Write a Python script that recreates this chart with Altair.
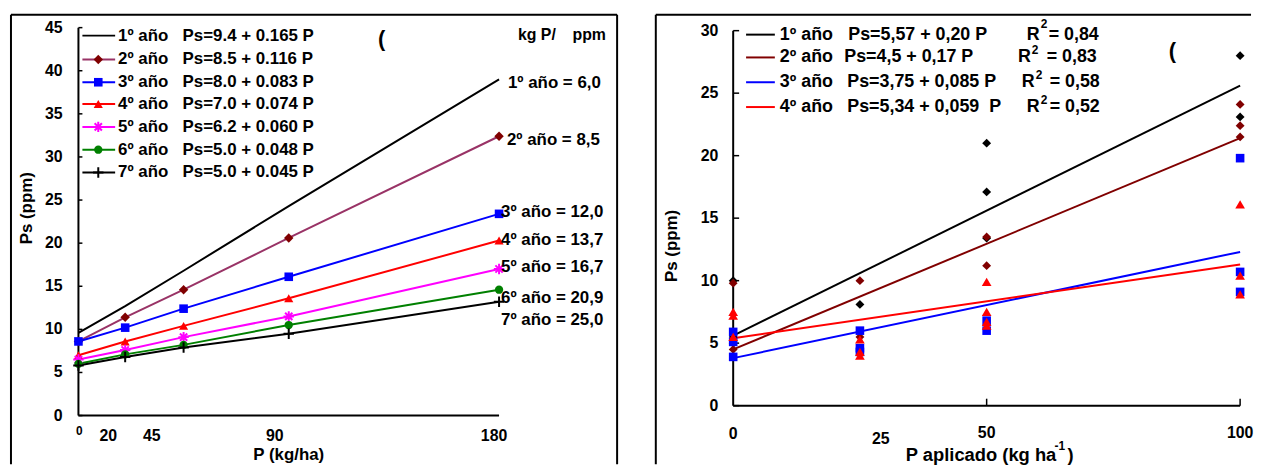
import altair as alt
import pandas as pd

# ---------------- Left panel: Ps vs P applied, by year ----------------
P_DOSES = [0, 20, 45, 90, 180]
YEARS_L = ["1º año", "2º año", "3º año", "4º año", "5º año", "6º año", "7º año"]
PS_YEAR1 = [9.6, 12.7, 16.8, 24.3, 39.0]
PS_YEAR2 = [8.6, 11.4, 14.6, 20.6, 32.4]
PS_YEAR3 = [8.6, 10.2, 12.4, 16.1, 23.4]
PS_YEAR4 = [7.0, 8.6, 10.4, 13.6, 20.3]
PS_YEAR5 = [6.5, 7.6, 9.1, 11.5, 17.0]
PS_YEAR6 = [6.0, 7.1, 8.2, 10.5, 14.6]
PS_YEAR7 = [5.8, 6.8, 7.9, 9.5, 13.2]
EQ_L = ["Ps=9.4 + 0.165 P", "Ps=8.5 + 0.116 P", "Ps=8.0 + 0.083 P", "Ps=7.0 + 0.074 P",
        "Ps=6.2 + 0.060 P", "Ps=5.0 + 0.048 P", "Ps=5.0 + 0.045 P"]
KGP_PPM = ["1º año = 6,0", "2º año = 8,5", "3º año = 12,0", "4º año = 13,7",
           "5º año = 16,7", "6º año = 20,9", "7º año = 25,0"]
Y_TICKS_L = [0, 5, 10, 15, 20, 25, 30, 35, 40, 45]
X_TICKS_L = [0, 20, 45, 90, 180]
X_TICK_LABELS_L = ["0", "20", "45", "90", "180"]

# ---------------- Right panel: observations + fitted lines ----------------
YEARS_R = ["1º año", "2º año", "3º año", "4º año"]
EQ_R = ["Ps=5,57 + 0,20 P", "Ps=4,5 + 0,17 P", "Ps=3,75 + 0,085 P", "Ps=5,34 + 0,059\u00a0 P"]
R2_R = ["= 0,84", "= 0,83", "= 0,58", "= 0,52"]
OBS1_P = [0, 0, 25, 50, 50, 50, 100, 100]
OBS1_PS = [10.0, 5.5, 8.1, 21.0, 17.1, 13.4, 28.0, 23.1]
OBS2_P = [0, 0, 0, 25, 25, 50, 50, 100, 100, 100]
OBS2_PS = [9.8, 5.0, 4.5, 10.0, 5.5, 13.5, 11.2, 24.1, 22.4, 21.5]
OBS3_P = [0, 0, 0, 25, 25, 25, 50, 50, 100, 100, 100]
OBS3_PS = [5.9, 5.1, 3.9, 6.0, 4.6, 4.3, 6.8, 6.0, 19.8, 10.7, 9.1]
OBS4_P = [0, 0, 0, 25, 25, 25, 50, 50, 50, 50, 100, 100, 100]
OBS4_PS = [7.5, 7.2, 5.5, 5.3, 4.3, 4.0, 9.9, 7.5, 6.7, 6.4, 16.1, 10.4, 8.9]
FIT_P = [0, 100]
FIT1 = [5.6, 25.6]
FIT2 = [4.5, 21.4]
FIT3 = [3.8, 12.3]
FIT4 = [5.4, 11.3]
Y_TICKS_R = [0, 5, 10, 15, 20, 25, 30]
X_TICKS_R = [50, 100]
X_LABELS_R = [0, 25, 50, 100]

# ---------------- styles ----------------
FONT = "Liberation Sans"
ASTERISK = "M-1,0L1,0M0,-1L0,1M-0.7,-0.7L0.7,0.7M-0.7,0.7L0.7,-0.7"
PLUS = "M-1,0L1,0M0,-1L0,1"
LINE_COL_L = ["#000000", "#993366", "#0000FF", "#FF0000", "#FF00FF", "#008000", "#000000"]
MARK_COL_L = ["#000000", "#800000", "#0000FF", "#FF0000", "#FF00FF", "#008000", "#000000"]
SHAPE_L = [None, "diamond", "square", "triangle-up", ASTERISK, "circle", PLUS]
FILLED_L = [True, True, True, True, False, True, False]
SIZE_L = [0, 90, 75, 85, 110, 70, 110]
COL_R = ["#000000", "#800000", "#0000FF", "#FF0000"]
SHAPE_R = ["diamond", "diamond", "square", "triangle-up"]
SIZE_R = [80, 80, 75, 95]


class Panel:
    def __init__(self, w, h, x0px, xpu, y0px, ypu):
        self.w, self.h, self.xpu, self.ypu = w, h, xpu, ypu
        self.xd = [-x0px / xpu, (w - x0px) / xpu]
        self.yd = [-(h - y0px) / ypu, y0px / ypu]

    def x(self, px):
        return self.xd[0] + px / self.w * (self.xd[1] - self.xd[0])

    def y(self, py):
        return self.yd[1] - py / self.h * (self.yd[1] - self.yd[0])

    def X(self, f="x"):
        return alt.X(f"{f}:Q", scale=alt.Scale(domain=self.xd, nice=False, zero=False), axis=None)

    def Y(self, f="y"):
        return alt.Y(f"{f}:Q", scale=alt.Scale(domain=self.yd, nice=False, zero=False), axis=None)


def text_layer(pn, xs, ys, labels, size=17, align="left", px=True, **kw):
    if px:
        xs = [pn.x(v) for v in xs]
        ys = [pn.y(v) for v in ys]
    df = pd.DataFrame({"x": xs, "y": ys, "t": labels})
    return alt.Chart(df).mark_text(font=FONT, fontWeight="bold", fontSize=size, align=align,
                                   baseline="middle", color="black", **kw).encode(
        x=pn.X(), y=pn.Y(), text="t:N")


ONE = pd.DataFrame({"k": [0]})


def frame_rules(sides, w, h):
    out = []
    for s in sides:
        if s == "left":
            enc = dict(x=alt.value(0), y=alt.value(0), y2=alt.value(h))
        elif s == "right":
            enc = dict(x=alt.value(w), y=alt.value(0), y2=alt.value(h))
        else:
            enc = dict(x=alt.value(0), x2=alt.value(w), y=alt.value(0))
        out.append(alt.Chart(ONE).mark_rule(color="black", strokeWidth=2).encode(**enc))
    return out


def axis_rules(pn, xmax, ymax, ytick_vals, ytick_px, xtick_vals=(), xtick_px=0):
    layers = []
    yax = pd.DataFrame({"x": [0], "y": [0], "y2": [ymax]})
    xax = pd.DataFrame({"x": [0], "x2": [xmax], "y": [0]})
    layers.append(alt.Chart(yax).mark_rule(color="black", strokeWidth=2).encode(
        x=pn.X(), y=pn.Y(), y2="y2:Q"))
    layers.append(alt.Chart(xax).mark_rule(color="black", strokeWidth=2).encode(
        x=pn.X(), x2="x2:Q", y=pn.Y()))
    yt = pd.DataFrame({"x": [0] * len(ytick_vals), "x2": [ytick_px / pn.xpu] * len(ytick_vals),
                       "y": ytick_vals})
    layers.append(alt.Chart(yt).mark_rule(color="black", strokeWidth=1.5).encode(
        x=pn.X(), x2="x2:Q", y=pn.Y()))
    if len(xtick_vals):
        xt = pd.DataFrame({"x": list(xtick_vals), "y": [0] * len(xtick_vals),
                           "y2": [xtick_px / pn.ypu] * len(xtick_vals)})
        layers.append(alt.Chart(xt).mark_rule(color="black", strokeWidth=1.5).encode(
            x=pn.X(), y=pn.Y(), y2="y2:Q"))
    return layers


def point_layer(pn, xs, ys, shape, color, filled, size):
    df = pd.DataFrame({"x": xs, "y": ys})
    if filled:
        m = alt.Chart(df).mark_point(shape=shape, filled=True, color=color, size=size, opacity=1)
    else:
        m = alt.Chart(df).mark_point(shape=shape, filled=False, color=color, size=size,
                                     strokeWidth=2, opacity=1)
    return m.encode(x=pn.X(), y=pn.Y())


def line_layer(pn, xs, ys, color, width=2):
    df = pd.DataFrame({"x": xs, "y": ys})
    return alt.Chart(df).mark_line(color=color, strokeWidth=width).encode(x=pn.X(), y=pn.Y())


# ======================= LEFT PANEL =======================
LW, LH = 611, 453
L = Panel(LW, LH, x0px=68, xpu=424 / 180, y0px=404, ypu=8.69)
left = []
left += frame_rules(["left", "top", "right"], LW, LH)
left += axis_rules(L, 180, 45, Y_TICKS_L, 4)
# y tick labels
left.append(text_layer(L, [0] * len(Y_TICKS_L), Y_TICKS_L, [str(v) for v in Y_TICKS_L],
                       size=16, align="right", px=False, dx=-16))
# x tick labels (placed as in the original figure)
xl_dx = [1, -17, -32, -14, -5]
xl_x = [v + d / L.xpu for v, d in zip(X_TICKS_L, xl_dx)]
xl_y = [L.y(420)] + [L.y(425)] * 4
for i, lab in enumerate(X_TICK_LABELS_L):
    left.append(text_layer(L, [xl_x[i]], [xl_y[i]], [lab], size=12 if i == 0 else 16,
                           align="center", px=False))
# series
series_L = [PS_YEAR1, PS_YEAR2, PS_YEAR3, PS_YEAR4, PS_YEAR5, PS_YEAR6, PS_YEAR7]
for i, s in enumerate(series_L):
    left.append(line_layer(L, P_DOSES, s, LINE_COL_L[i]))
for i, s in enumerate(series_L):
    if SHAPE_L[i]:
        left.append(point_layer(L, P_DOSES, s, SHAPE_L[i], MARK_COL_L[i], FILLED_L[i], SIZE_L[i]))
# legend
leg_y = [21, 45, 68, 90, 113, 136, 159]
for i in range(7):
    left.append(line_layer(L, [L.x(72), L.x(105)], [L.y(leg_y[i])] * 2, LINE_COL_L[i]))
    if SHAPE_L[i]:
        left.append(point_layer(L, [L.x(88)], [L.y(leg_y[i])], SHAPE_L[i], MARK_COL_L[i],
                                FILLED_L[i], SIZE_L[i]))
left.append(text_layer(L, [108] * 7, leg_y, YEARS_L))
left.append(text_layer(L, [173] * 7, leg_y, EQ_L))
# right-hand annotations
left.append(text_layer(L, [511, 566], [20, 20], ["kg P/", "ppm"], size=16))
ann_x = [501, 500, 494, 494, 494, 494, 494]
ann_y = [69, 126, 199, 227, 254, 286, 308]
left.append(text_layer(L, ann_x, ann_y, KGP_PPM))
left.append(text_layer(L, [370], [24], ["("], size=22))
# axis titles
left.append(text_layer(L, [16], [195], ["Ps (ppm)"], size=17, align="center", angle=270))
left.append(text_layer(L, [280], [444], ["P (kg/ha)"], size=17, align="center"))

left_chart = alt.layer(*left).properties(width=LW, height=LH)

# ======================= RIGHT PANEL =======================
RW, RH = 590, 453
R = Panel(RW, RH, x0px=78, xpu=5.11, y0px=394, ypu=12.6)
right = []
right += frame_rules(["left"], RW, RH)
right.append(alt.Chart(ONE).mark_rule(color="black", strokeWidth=2).encode(
    x=alt.value(0), x2=alt.value(600), y=alt.value(0)))
right += axis_rules(R, 100, 30, Y_TICKS_R, 6, X_TICKS_R, 7)
right.append(text_layer(R, [0] * len(Y_TICKS_R), Y_TICKS_R, [str(v) for v in Y_TICKS_R],
                        size=16, align="right", px=False, dx=-15))
xr_dx = [0, 21, 0, 0]
xr_y = [R.y(423), R.y(428), R.y(422), R.y(422)]
xr_x = [v + d / R.xpu for v, d in zip(X_LABELS_R, xr_dx)]
right.append(text_layer(R, xr_x, xr_y, [str(v) for v in X_LABELS_R], size=16,
                        align="center", px=False))
fits = [FIT1, FIT2, FIT3, FIT4]
for i, f in enumerate(fits):
    right.append(line_layer(R, FIT_P, f, COL_R[i]))
obs = [(OBS1_P, OBS1_PS), (OBS2_P, OBS2_PS), (OBS3_P, OBS3_PS), (OBS4_P, OBS4_PS)]
for i, (xs, ys) in enumerate(obs):
    right.append(point_layer(R, xs, ys, SHAPE_R[i], COL_R[i], True, SIZE_R[i]))
# legend
rleg_y = [20, 43, 68, 93]
for i in range(4):
    right.append(line_layer(R, [R.x(91), R.x(120)], [R.y(rleg_y[i])] * 2, COL_R[i]))
right.append(text_layer(R, [125] * 4, rleg_y, YEARS_R, size=18))
right.append(text_layer(R, [194, 190, 193, 193], rleg_y, EQ_R, size=18))
r_x = [374, 365, 369, 374]
right.append(text_layer(R, r_x, rleg_y, ["R"] * 4, size=18))
right.append(text_layer(R, [v + 14 for v in r_x], [9, 36, 61, 86], ["2"] * 4, size=12))
right.append(text_layer(R, [396, 394, 397, 397], rleg_y, R2_R, size=18))
right.append(text_layer(R, [517], [37], ["("], size=22))
# axis titles
right.append(text_layer(R, [16], [233], ["Ps (ppm)"], size=17, align="center", angle=270))
right.append(text_layer(R, [252], [444], ["P aplicado (kg ha"], size=18.5))
right.append(text_layer(R, [402], [435], ["-1"], size=12))
right.append(text_layer(R, [415], [444], [")"], size=18.5))

right_chart = alt.layer(*right).properties(width=RW, height=RH)

chart = alt.hconcat(left_chart, right_chart, spacing=37).properties(
    padding={"left": 2, "top": 4, "right": 0, "bottom": 0}
).configure_view(strokeWidth=0)

chart.save("out.html", embed_options={"renderer": "svg", "actions": False})
